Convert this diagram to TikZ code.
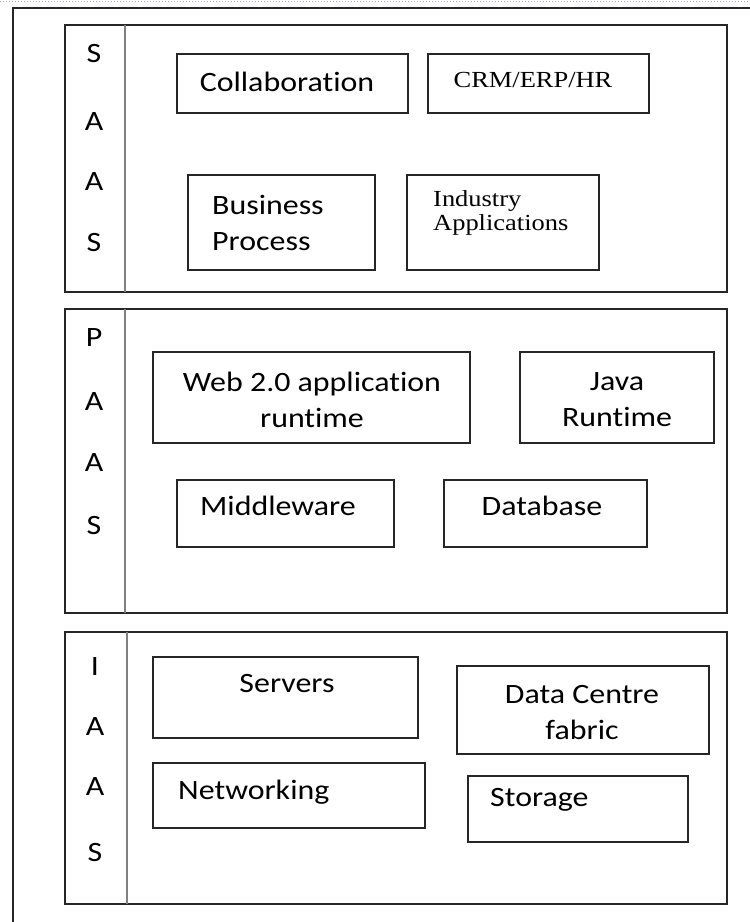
\documentclass[tikz,border=0pt]{standalone}
\usepackage{fontspec}
\setmainfont{Carlito}[FakeStretch=1.14, Ligatures=NoCommon]
\newfontfamily\timesfont{Liberation Serif}[FakeStretch=1.15]
\tikzset{
  frame/.style={black!85, line width=1.6pt},
  divider/.style={black!50, line width=1.8pt},
  txt/.style={inner sep=0pt, font=\fontsize{28}{36}\selectfont},
  serif/.style={inner sep=0pt, font=\timesfont\fontsize{23}{24}\selectfont}
}
\begin{document}
\begin{tikzpicture}[x=1pt,y=-1pt]
    \useasboundingbox (0,0) rectangle (750,922);
    % page edge
    \draw[blue!20!gray!60, dotted, line width=1pt] (0,1) -- (750,1);
    \draw[frame] (13,922) -- (13,8) -- (750,8);
    % layers
    \draw[frame] (65,25) rectangle (727,292);
    \draw[frame] (65,309) rectangle (727,613);
    \draw[frame] (65,632) rectangle (727,904);
    \draw[divider] (125,25) -- (125,292);
    \draw[divider] (125,309) -- (125,613);
    \draw[divider] (127,632) -- (127,904);
    % layer letters
    \foreach \ch/\y [count=\i] in {S/54,A/122,A/182,S/243}
        \node[txt] (saas\i) at (94,\y) {\ch};
    \foreach \ch/\y [count=\i] in {P/338,A/402,A/463,S/526}
        \node[txt] (paas\i) at (94,\y) {\ch};
    \foreach \ch/\y [count=\i] in {I/667,A/727,A/787,S/852}
        \node[txt] (iaas\i) at (95,\y) {\ch};
    % SaaS boxes
    \draw[frame] (177,54) rectangle (408,113);
    \node[txt] (collab) at (287,82) {Collaboration};
    \draw[frame] (428,54) rectangle (649,113);
    \node[serif] (crm) at (533,80) {CRM/ERP/HR};
    \draw[frame] (188,175) rectangle (375,270);
    \node[txt, align=left, anchor=west] (business) at (212,223) {Business\\Process};
    \draw[frame] (407,175) rectangle (599,270);
    \node[serif, align=left, anchor=west] (industry) at (433,213) {Industry\\Applications};
    % PaaS boxes
    \draw[frame] (153,352) rectangle (470,443);
    \node[txt, align=center] (webrt) at (312,400) {Web 2.0 application\\runtime};
    \draw[frame] (520,352) rectangle (714,443);
    \node[txt, align=center] (javart) at (617,400) {Java\\Runtime};
    \draw[frame] (177,480) rectangle (394,547);
    \node[txt, anchor=west] (middleware) at (200,506) {Middleware};
    \draw[frame] (444,480) rectangle (647,547);
    \node[txt] (database) at (542,506) {Database};
    % IaaS boxes
    \draw[frame] (153,657) rectangle (418,738);
    \node[txt] (servers) at (287,684) {Servers};
    \draw[frame] (457,666) rectangle (709,754);
    \node[txt, align=center] (dcfabric) at (582,713) {Data Centre\\fabric};
    \draw[frame] (153,763) rectangle (425,828);
    \node[txt, anchor=west] (networking) at (178,792) {Networking};
    \draw[frame] (468,776) rectangle (688,842);
    \node[txt, anchor=west] (storage) at (490,800) {Storage};
\end{tikzpicture}
\end{document}
